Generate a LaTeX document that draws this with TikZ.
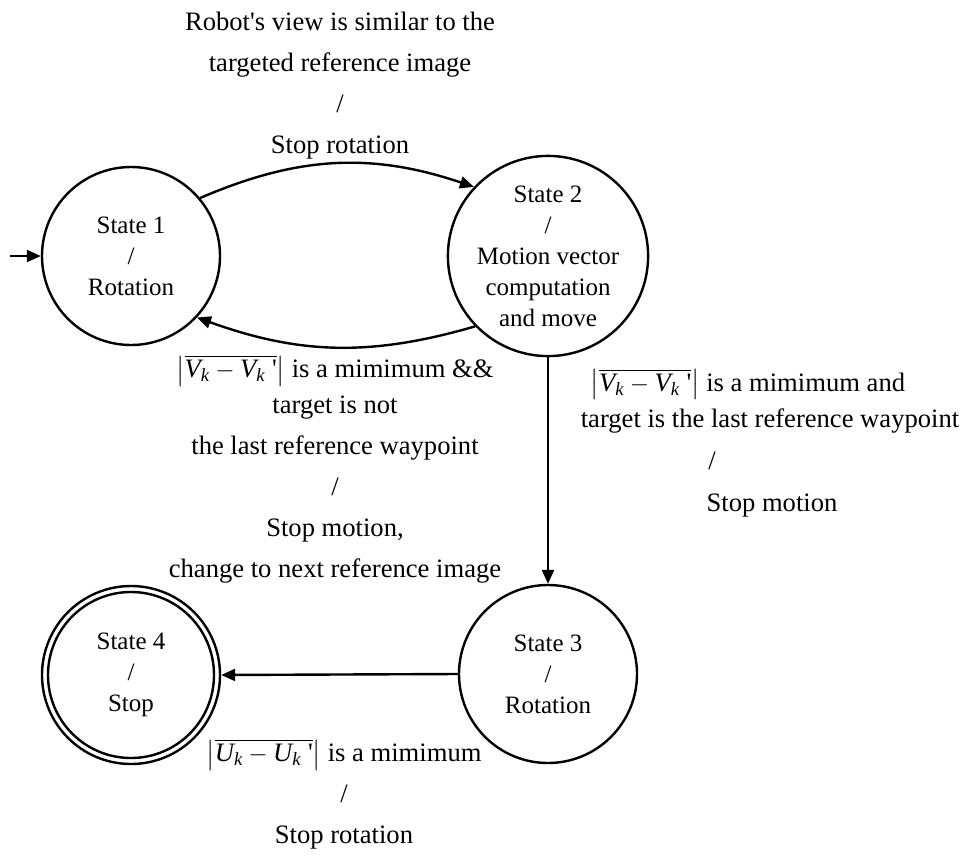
\documentclass[tikz,border=0pt]{standalone}
\usepackage{amsmath}
\usepackage{fontspec}
\setmainfont{Liberation Serif}
\usetikzlibrary{arrows.meta}
\newcommand{\normdiff}[1]{$\left|\overline{\text{\itshape #1}_{\text{\itshape k}}-\text{\itshape #1}_{\text{\itshape k}}\;\text{\textquotesingle}}\right|$}
\tikzset{
  state/.style={circle, draw, line width=2.4pt, minimum size=178pt, inner sep=0pt,
    align=center, font=\fontsize{25}{31}\selectfont},
  lbl/.style={align=center, inner sep=0pt, font=\fontsize{26.6}{41}\selectfont},
  conn/.style={line width=2.4pt, -{Triangle[length=14pt,width=12pt]}}
}
\begin{document}
\begin{tikzpicture}[x=1pt,y=-1pt]
\useasboundingbox (0,0) rectangle (960,856);
% states
\node[state] (s1) at (131,256) {State 1\\/\\Rotation};
\node[state] (s2) at (548,256) {State 2\\/\\Motion vector\\computation\\and move};
\node[state] (s3) at (548,674) {State 3\\/\\Rotation};
\node[state] (s4) at (131,675) {State 4\\/\\Stop};
\draw[line width=2.4pt] (s4.center) circle (83pt);
\coordinate (start) at (10,256);
% connectors
\draw[conn] (start) -- (s1.west);
\draw[conn] (s1.40) to[bend left=21] (s2.137);
\draw[conn] (s2.224) to[bend left=18] (s1.317);
\draw[conn] (s2.south) -- (s3.north);
\draw[conn] (s3.west) -- (s4.east);
% labels
\node[lbl] (ltop) at (340,86) {Robot\textquotesingle s view is similar to the\\targeted reference image\\/\\Stop rotation};
\node[lbl] (lleft) at (335,469) {\raisebox{-5pt}{\normdiff{V} is a mimimum \&\&}\\target is not\\the last reference waypoint\\/\\Stop motion,\\change to next reference image};
\node[lbl, anchor=base] (lr1) at (748,391) {\normdiff{V} is a mimimum and};
\node[lbl, anchor=base] (lr2) at (770,427) {target is the last reference waypoint};
\node[lbl, anchor=base] (lr3) at (712,469) {/};
\node[lbl, anchor=base] (lr4) at (772,511) {Stop motion};
\node[lbl] (lbot) at (344,794) {\normdiff{U} is a mimimum\\/\\Stop rotation};
\end{tikzpicture}
\end{document}
